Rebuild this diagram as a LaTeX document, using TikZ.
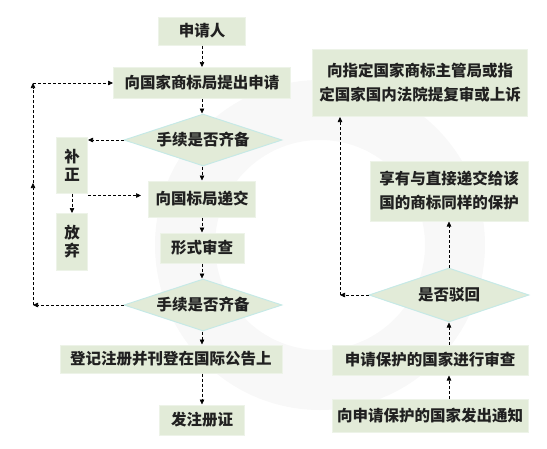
\documentclass[tikz,border=0pt]{standalone}
\usepackage{fontspec}
\newfontfamily\cjk{Noto Sans CJK SC}
\usetikzlibrary{shapes.geometric,arrows.meta,positioning}
\definecolor{boxgreen}{HTML}{E2EBD8}
\definecolor{boxedge}{HTML}{EDF3E8}
\definecolor{diaedge}{HTML}{C6E9E6}
\definecolor{ink}{HTML}{202020}
\definecolor{watermark}{HTML}{F8F8F8}

\begin{document}
\begin{tikzpicture}[x=1pt, y=-1pt, font=\cjk\bfseries\fontsize{15.5}{18}\selectfont, text=ink,
	box/.style={rectangle, fill=boxgreen, draw=boxedge, line width=1pt, inner sep=2pt},
	check/.style={diamond, aspect=3, fill=boxgreen, draw=diaedge, line width=1pt, inner sep=0pt, minimum width=158pt, minimum height=52pt},
	flow/.style={-{Triangle[length=5pt,width=4.5pt]}, dash pattern=on 3pt off 2pt, line width=0.6pt}]
	\useasboundingbox (0,0) rectangle (547,448);
	% faint watermark
	\fill [watermark, even odd rule] (320,245) circle [radius=165] (320,245) circle [radius=105];
	% left column
	\node [box, minimum width=87pt, minimum height=28pt] (applicant) at (202,31) {申请人};
	\node [box, minimum width=177pt, minimum height=31pt] (apply) at (202,83) {向国家商标局提出申请};
	\node [check] (checkA) at (203,140) {手续是否齐备};
	\node [box, minimum width=31pt, minimum height=56pt, align=center] (amend) at (72,165) {补\\正};
	\node [box, minimum width=107pt, minimum height=36pt] (submit) at (202,199) {向国标局递交};
	\node [box, minimum width=31pt, minimum height=57pt, align=center] (abandon) at (72,242) {放\\弃};
	\node [box, minimum width=84pt, minimum height=30pt] (formal) at (202,248) {形式审查};
	\node [check] (checkB) at (203,305) {手续是否齐备};
	\node [box, minimum width=222pt, minimum height=28pt] (register) at (171,359) {登记注册并刊登在国际公告上};
	\node [box, minimum width=85pt, minimum height=30pt] (cert) at (202,420) {发注册证};
	% right column
	\node [box, minimum width=215pt, minimum height=67pt, align=center, font=\cjk\bfseries\fontsize{15.5}{24}\selectfont] (appeal) at (420,83) {向指定国家商标主管局或指\\定国家国内法院提复审或上诉};
	\node [box, minimum width=158pt, minimum height=60pt, align=center, font=\cjk\bfseries\fontsize{15.5}{24}\selectfont] (protect) at (449,191) {享有与直接递交给该\\国的商标同样的保护};
	\node [check, minimum width=160pt, minimum height=54pt] (reject) at (449,295) {是否驳回};
	\node [box, minimum width=196pt, minimum height=30pt] (examine) at (430,360) {申请保护的国家进行审查};
	\node [box, minimum width=196pt, minimum height=33pt] (notify) at (430,416) {向申请保护的国家发出通知};
	% turning points
	\coordinate (loopB) at (33,305);
	\coordinate (loopM) at (33,183);
	\coordinate (loopT) at (33,83);
	\coordinate (backR) at (340,295);
	% main flow
	\draw [flow] (applicant) -- (apply);
	\draw [flow] (apply) -- (apply.south |- checkA.north);
	\draw [flow] (apply.south |- checkA.south) -- (submit);
	\draw [flow] (submit) -- (formal);
	\draw [flow] (formal) -- (formal.south |- checkB.north);
	\draw [flow] (cert.north |- checkB.south) -- (cert.north |- register.north);
	\draw [flow] (cert.north |- register.south) -- (cert.north);
	% side branches
	\draw [flow] (checkA.west) -- (checkA.west -| amend.east);
	\draw [flow] ([yshift=-2pt]amend.south east) -- ([yshift=-2pt]amend.south east -| submit.west) [shorten >=7pt];
	\draw [flow] (amend) -- (abandon);
	\draw [flow] (checkB.west) -- (loopB);
	\draw [flow] (loopB) -- (loopM);
	\draw [flow] (loopM) -- (loopT);
	\draw [flow] (loopT) -- (apply.west);
	% right flow
	\draw [flow] (reject.south |- notify.north) -- (reject.south |- examine.south);
	\draw [flow] (reject.south |- examine.north) -- (reject.south);
	\draw [flow] (reject.north) -- (reject.north |- protect.south);
	\draw [flow] (reject.west) -- (backR);
	\draw [flow] (backR) -- (backR |- appeal.south);
\end{tikzpicture}
\end{document}
